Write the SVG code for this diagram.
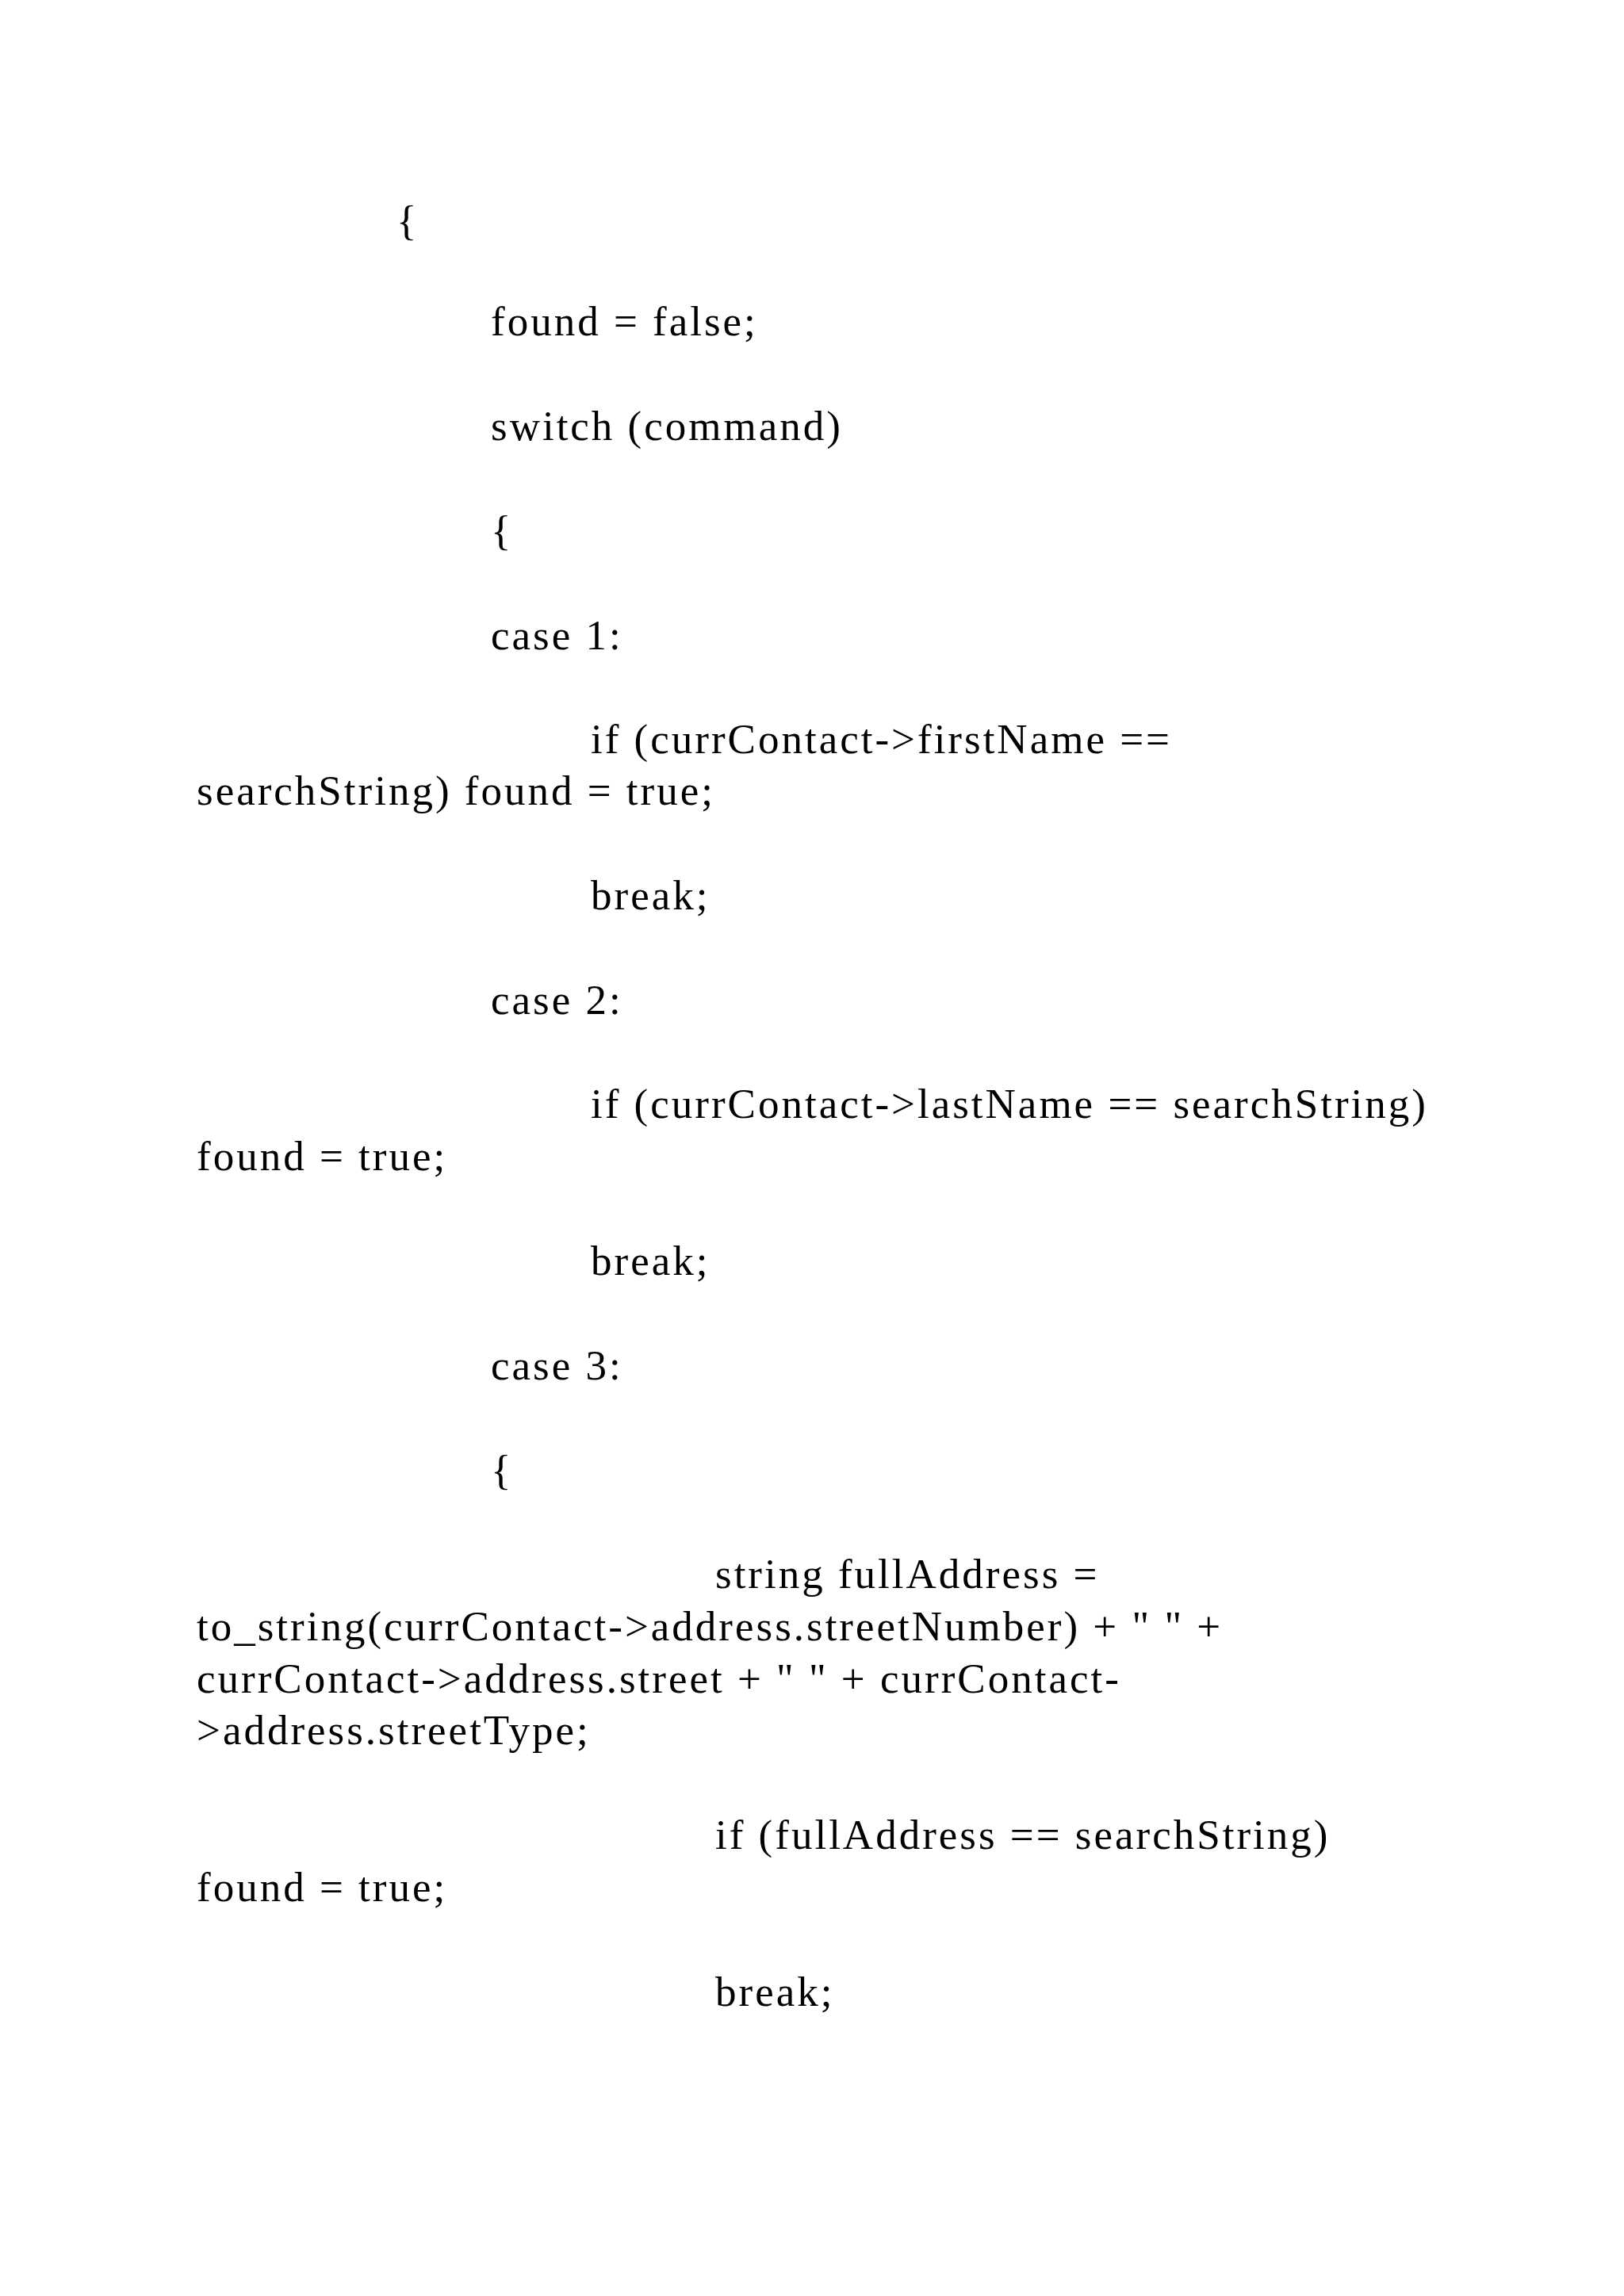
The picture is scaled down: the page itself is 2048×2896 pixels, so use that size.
<svg xmlns="http://www.w3.org/2000/svg" width="2048" height="2896" viewBox="0 0 2048 2896">
<style>text{font-family:"Liberation Serif","Times New Roman",serif;font-size:53px;letter-spacing:3px;fill:#000}</style>
<rect width="2048" height="2896" fill="#fff"/>
<text x="500" y="296">{</text>
<text x="619" y="423">found = false;</text>
<text x="619" y="555">switch (command)</text>
<text x="619" y="687">{</text>
<text x="619" y="819">case 1:</text>
<text x="745" y="950">if (currContact-&gt;firstName ==</text>
<text x="248" y="1015">searchString) found = true;</text>
<text x="745" y="1147">break;</text>
<text x="619" y="1279">case 2:</text>
<text x="745" y="1410">if (currContact-&gt;lastName == searchString)</text>
<text x="248" y="1476">found = true;</text>
<text x="745" y="1608">break;</text>
<text x="619" y="1740">case 3:</text>
<text x="619" y="1872">{</text>
<text x="902" y="2003">string fullAddress =</text>
<text x="248" y="2069">to_string(currContact-&gt;address.streetNumber) + " " +</text>
<text x="248" y="2135">currContact-&gt;address.street + " " + currContact-</text>
<text x="248" y="2200">&gt;address.streetType;</text>
<text x="902" y="2332">if (fullAddress == searchString)</text>
<text x="248" y="2398">found = true;</text>
<text x="902" y="2530">break;</text>
</svg>
